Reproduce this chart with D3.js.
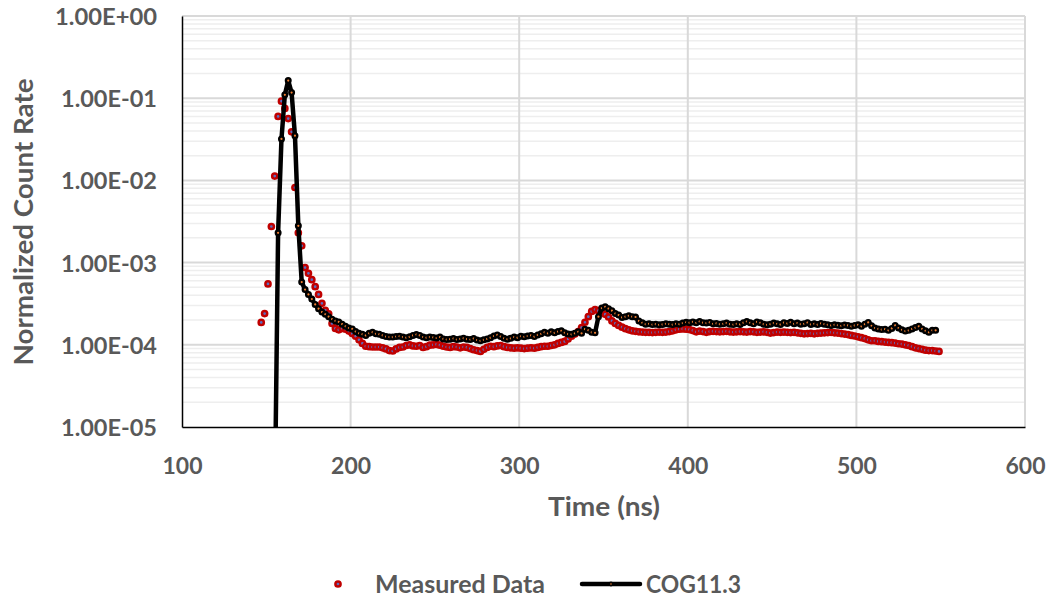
<!DOCTYPE html>
<html><head><meta charset="utf-8">
<script src="https://cdn.jsdelivr.net/npm/d3@7"></script>
<style>
html,body{margin:0;padding:0;background:#fff;}
svg{display:block;}
text{font-family:Lato,"Open Sans",sans-serif;font-weight:bold;fill:#595959;}
</style></head>
<body>
<svg id="chart" width="1050" height="599"></svg>
<script>
// ---- data ----
const xTicks = [100, 200, 300, 400, 500, 600];
const yTicks = [1, 1e-1, 1e-2, 1e-3, 1e-4, 1e-5];
const yTickLabels = ["1.00E+00", "1.00E-01", "1.00E-02", "1.00E-03", "1.00E-04", "1.00E-05"];
const seriesNames = ["Measured Data", "COG11.3"];

const measuredStart = 147, measuredStep = 2; // ns
const measuredValues = [
1.87e-4,2.4e-4,5.5e-4,2.75e-3,1.13e-2,6.0e-2,9.2e-2,7.5e-2,5.65e-2,3.9e-2,
8.2e-3,2.3e-3,1.6e-3,8.7e-4,7.4e-4,6.2e-4,5.1e-4,4.1e-4,3.2e-4,2.62e-4,
2.38e-4,1.82e-4,1.58e-4,1.52e-4,1.58e-4,1.55e-4,1.47e-4,1.37e-4,1.27e-4,1.15e-4,
1.04e-4,9.6e-5,9.5e-5,9.4e-5,9.4e-5,9.4e-5,9.2e-5,8.9e-5,8.5e-5,8.4e-5,
8.9e-5,9.3e-5,9.4e-5,9.8e-5,1.0e-4,9.7e-5,9.6e-5,9.8e-5,9.3e-5,9.5e-5,
9.9e-5,1.0e-4,1.01e-4,9.9e-5,9.6e-5,9.4e-5,9.3e-5,9.5e-5,9.4e-5,9.2e-5,
9.4e-5,9.3e-5,9.0e-5,8.7e-5,8.5e-5,8.3e-5,8.8e-5,9.3e-5,9.6e-5,9.5e-5,
9.7e-5,9.8e-5,9.5e-5,9.3e-5,9.2e-5,9.1e-5,9.2e-5,9.1e-5,9.0e-5,9.1e-5,
9.2e-5,9.1e-5,9.3e-5,9.5e-5,9.6e-5,9.6e-5,9.8e-5,1.0e-4,1.04e-4,1.07e-4,
1.1e-4,1.18e-4,1.27e-4,1.35e-4,1.45e-4,1.62e-4,1.88e-4,2.2e-4,2.55e-4,2.68e-4,
2.6e-4,2.5e-4,2.35e-4,2.18e-4,1.95e-4,1.82e-4,1.72e-4,1.64e-4,1.57e-4,1.52e-4,
1.48e-4,1.46e-4,1.44e-4,1.43e-4,1.42e-4,1.42e-4,1.41e-4,1.42e-4,1.43e-4,1.42e-4,
1.43e-4,1.45e-4,1.48e-4,1.52e-4,1.55e-4,1.56e-4,1.55e-4,1.53e-4,1.49e-4,1.44e-4,
1.47e-4,1.45e-4,1.42e-4,1.45e-4,1.46e-4,1.45e-4,1.44e-4,1.45e-4,1.46e-4,1.44e-4,
1.43e-4,1.44e-4,1.45e-4,1.44e-4,1.43e-4,1.45e-4,1.44e-4,1.42e-4,1.43e-4,1.44e-4,
1.42e-4,1.39e-4,1.41e-4,1.43e-4,1.42e-4,1.43e-4,1.42e-4,1.41e-4,1.42e-4,1.40e-4,
1.38e-4,1.36e-4,1.37e-4,1.38e-4,1.36e-4,1.38e-4,1.39e-4,1.40e-4,1.41e-4,1.42e-4,
1.40e-4,1.39e-4,1.37e-4,1.35e-4,1.33e-4,1.30e-4,1.28e-4,1.25e-4,1.22e-4,1.19e-4,
1.15e-4,1.12e-4,1.12e-4,1.10e-4,1.09e-4,1.08e-4,1.07e-4,1.06e-4,1.05e-4,1.03e-4,
1.02e-4,1.0e-4,9.8e-5,9.5e-5,9.2e-5,9.0e-5,8.8e-5,8.6e-5,8.5e-5,8.5e-5,
8.4e-5,8.3e-5
];

const cogStart = 155, cogStep = 2; // ns
const cogValues = [
1e-6,2.3e-3,3.2e-2,0.11,0.164,0.117,0.035,2.8e-3,5.8e-4,4.7e-4,
4.1e-4,3.6e-4,3.1e-4,2.75e-4,2.5e-4,2.35e-4,2.2e-4,2.05e-4,1.95e-4,1.9e-4,
1.78e-4,1.68e-4,1.6e-4,1.56e-4,1.45e-4,1.38e-4,1.34e-4,1.3e-4,1.38e-4,1.42e-4,
1.36e-4,1.34e-4,1.3e-4,1.26e-4,1.24e-4,1.24e-4,1.26e-4,1.27e-4,1.24e-4,1.22e-4,
1.25e-4,1.3e-4,1.33e-4,1.3e-4,1.24e-4,1.22e-4,1.24e-4,1.23e-4,1.21e-4,1.24e-4,
1.18e-4,1.16e-4,1.17e-4,1.19e-4,1.16e-4,1.18e-4,1.2e-4,1.17e-4,1.16e-4,1.19e-4,
1.14e-4,1.12e-4,1.15e-4,1.18e-4,1.22e-4,1.28e-4,1.32e-4,1.26e-4,1.2e-4,1.17e-4,
1.2e-4,1.24e-4,1.22e-4,1.27e-4,1.25e-4,1.28e-4,1.3e-4,1.26e-4,1.32e-4,1.36e-4,
1.42e-4,1.38e-4,1.44e-4,1.4e-4,1.45e-4,1.48e-4,1.4e-4,1.35e-4,1.34e-4,1.38e-4,
1.44e-4,1.38e-4,1.55e-4,1.5e-4,1.42e-4,1.4e-4,2.2e-4,2.8e-4,2.9e-4,2.75e-4,
2.6e-4,2.4e-4,2.3e-4,2.15e-4,2.2e-4,2.25e-4,2.2e-4,2.18e-4,1.95e-4,1.85e-4,
1.78e-4,1.8e-4,1.76e-4,1.78e-4,1.75e-4,1.77e-4,1.8e-4,1.78e-4,1.76e-4,1.8e-4,
1.78e-4,1.84e-4,1.88e-4,1.86e-4,1.9e-4,1.85e-4,1.92e-4,1.86e-4,1.84e-4,1.87e-4,
1.8e-4,1.82e-4,1.78e-4,1.8e-4,1.84e-4,1.78e-4,1.76e-4,1.8e-4,1.77e-4,1.86e-4,
1.92e-4,1.85e-4,1.8e-4,1.9e-4,1.85e-4,1.78e-4,1.75e-4,1.78e-4,1.84e-4,1.8e-4,
1.77e-4,1.86e-4,1.82e-4,1.88e-4,1.8e-4,1.84e-4,1.78e-4,1.8e-4,1.86e-4,1.77e-4,
1.8e-4,1.76e-4,1.82e-4,1.78e-4,1.75e-4,1.72e-4,1.75e-4,1.73e-4,1.7e-4,1.74e-4,
1.72e-4,1.68e-4,1.72e-4,1.75e-4,1.68e-4,1.78e-4,1.87e-4,1.7e-4,1.6e-4,1.56e-4,
1.53e-4,1.55e-4,1.5e-4,1.58e-4,1.72e-4,1.6e-4,1.52e-4,1.47e-4,1.5e-4,1.56e-4,
1.62e-4,1.68e-4,1.56e-4,1.48e-4,1.42e-4,1.5e-4,1.5e-4
];

// ---- layout ----
const svg = d3.select("#chart");
const plot = {left: 182, right: 1025, top: 16, bottom: 427};

const x = d3.scaleLinear().domain([100, 600]).range([plot.left, plot.right]);
const y = d3.scaleLog().domain([1e-5, 1]).range([plot.bottom, plot.top]);

const measured = measuredValues.map((v, i) => ({t: measuredStart + i * measuredStep, v}));
const cog = cogValues.map((v, i) => ({t: cogStart + i * cogStep, v}));

svg.append("defs").append("clipPath").attr("id", "clip")
  .append("rect").attr("x", plot.left).attr("y", plot.top)
  .attr("width", plot.right - plot.left).attr("height", plot.bottom - plot.top);

// minor horizontal grid
const minorVals = [];
for (let e = -5; e < 0; e++) for (let m = 2; m <= 9; m++) minorVals.push(m * Math.pow(10, e));
svg.append("g").selectAll("line").data(minorVals).join("line")
  .attr("x1", plot.left).attr("x2", plot.right)
  .attr("y1", d => y(d)).attr("y2", d => y(d))
  .attr("stroke", "#eeeeee").attr("stroke-width", 1.5);

// major horizontal grid
svg.append("g").selectAll("line").data(yTicks.slice(0, 5)).join("line")
  .attr("x1", plot.left).attr("x2", plot.right)
  .attr("y1", d => y(d)).attr("y2", d => y(d))
  .attr("stroke", "#d9d9d9").attr("stroke-width", 2);

// vertical grid
svg.append("g").selectAll("line").data(xTicks.slice(1)).join("line")
  .attr("x1", d => x(d)).attr("x2", d => x(d))
  .attr("y1", plot.top).attr("y2", plot.bottom)
  .attr("stroke", "#d9d9d9").attr("stroke-width", 2);

// axes
const xAxis = d3.axisBottom(x).tickValues(xTicks).tickSize(0).tickFormat(d3.format("d"));
const gx = svg.append("g").attr("transform", `translate(0,${plot.bottom})`).call(xAxis);
gx.select(".domain").attr("stroke", "#000").attr("stroke-width", 1.5);
gx.selectAll("text").attr("y", 47).attr("dy", null).style("font-size", "23.5px")
  .attr("fill", "#595959").attr("textLength", 40).attr("lengthAdjust", "spacingAndGlyphs");

const yAxis = d3.axisLeft(y).tickValues(yTicks).tickSize(0)
  .tickFormat((d, i) => yTickLabels[i]);
const gy = svg.append("g").attr("transform", `translate(${plot.left},0)`).call(yAxis);
gy.select(".domain").attr("stroke", "#000").attr("stroke-width", 1.5);
gy.selectAll("text").attr("x", -25).attr("dy", "0.36em").style("font-size", "23.5px")
  .attr("fill", "#595959")
  .attr("textLength", (d, i) => i === 0 ? 102 : 96).attr("lengthAdjust", "spacingAndGlyphs");

// titles
svg.append("text").attr("x", 604).attr("y", 516)
  .attr("text-anchor", "middle").style("font-size", "26px")
  .attr("textLength", 112).attr("lengthAdjust", "spacingAndGlyphs").text("Time (ns)");
svg.append("text").attr("transform", `translate(33,222) rotate(-90)`)
  .attr("text-anchor", "middle").style("font-size", "27px")
  .attr("textLength", 287).attr("lengthAdjust", "spacingAndGlyphs").text("Normalized Count Rate");

// series
const gData = svg.append("g").attr("clip-path", "url(#clip)");
const line = d3.line().x(d => x(d.t)).y(d => y(d.v));

gData.append("g").selectAll("circle").data(measured).join("circle")
  .attr("cx", d => x(d.t)).attr("cy", d => y(d.v)).attr("r", 2.6)
  .attr("fill", "#5b6fc0").attr("stroke", "#c00000").attr("stroke-width", 2.5);

gData.append("path").datum(cog).attr("d", line)
  .attr("fill", "none").attr("stroke", "#000").attr("stroke-width", 4.5)
  .attr("stroke-linejoin", "round").attr("stroke-linecap", "round");
gData.append("g").selectAll("circle").data(cog.filter(d => d.v >= 1e-5)).join("circle")
  .attr("cx", d => x(d.t)).attr("cy", d => y(d.v)).attr("r", 2.3)
  .attr("fill", "#ed7d31").attr("stroke", "#000").attr("stroke-width", 2.4);

// legend
const lg = svg.append("g");
lg.append("circle").attr("cx", 338).attr("cy", 584).attr("r", 2.6)
  .attr("fill", "#5b6fc0").attr("stroke", "#c00000").attr("stroke-width", 2.5);
lg.append("text").attr("x", 375).attr("y", 593).style("font-size", "24px")
  .attr("textLength", 170).attr("lengthAdjust", "spacingAndGlyphs").text(seriesNames[0]);
lg.append("line").attr("x1", 582).attr("x2", 640).attr("y1", 584).attr("y2", 584)
  .attr("stroke", "#000").attr("stroke-width", 4.5).attr("stroke-linecap", "round");
lg.append("circle").attr("cx", 611).attr("cy", 584).attr("r", 1.6)
  .attr("fill", "#ed7d31").attr("stroke", "#000").attr("stroke-width", 1.6);
lg.append("text").attr("x", 646).attr("y", 593).style("font-size", "24px")
  .attr("textLength", 95).attr("lengthAdjust", "spacingAndGlyphs").text(seriesNames[1]);
</script>
</body></html>
